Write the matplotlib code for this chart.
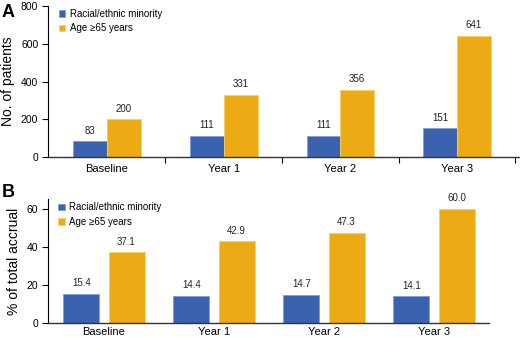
import matplotlib
matplotlib.use("Agg")
import numpy as np
import matplotlib.pyplot as plt

plt.rcParams['font.family'] = ['Liberation Sans', 'DejaVu Sans']

periods = ["Baseline", "Year 1", "Year 2", "Year 3"]
series_names = ["Racial/ethnic minority", "Age \u226565 years"]
minority_n = [83, 111, 111, 151]
age65_n = [200, 331, 356, 641]
minority_pct = [15.4, 14.4, 14.7, 14.1]
age65_pct = [37.1, 42.9, 47.3, 60.0]

blue = "#3a62ae"
orange = "#ecaa15"
blue_edge = "#7f9ed6"
orange_edge = "#f6d067"

W, H = 520, 338
fig = plt.figure(figsize=(W / 100, H / 100), dpi=100)

def frac(l, t, r, b):
    return [l / W, 1 - b / H, (r - l) / W, (b - t) / H]

x = np.arange(len(periods))

# ---- panel A
axA = fig.add_axes(frac(48, 6, 520, 157))
w = 0.29
bA1 = axA.bar(x - w / 2, minority_n, w, color=blue, edgecolor=blue_edge, lw=0.6, label=series_names[0])
bA2 = axA.bar(x + w / 2, age65_n, w, color=orange, edgecolor=orange_edge, lw=0.6, label=series_names[1])
for bars, vals in [(bA1, minority_n), (bA2, age65_n)]:
    for b, v in zip(bars, vals):
        axA.annotate(str(v), (b.get_x() + b.get_width() / 2, v), xytext=(0, 4),
                     textcoords="offset points", ha="center", va="bottom", fontsize=7, color="#222222")
axA.set_xlim(-0.506, 3.54)
axA.set_ylim(0, 800)
axA.set_yticks([0, 200, 400, 600, 800])
axA.set_xticks(x + 0.5, minor=False)
axA.set_xticklabels([])
axA.set_xticks(x, minor=True)
axA.set_xticklabels(periods, minor=True)
axA.tick_params(axis="x", which="major", length=4, width=0.8, direction="out")
axA.tick_params(axis="x", which="minor", length=0, pad=5, labelsize=8)
axA.set_ylabel("No. of patients", fontsize=10, labelpad=4)
axA.legend(loc="upper left", bbox_to_anchor=(0.01, 1.02), frameon=False, fontsize=7,
           handlelength=0.65, handleheight=0.65, handletextpad=0.5, labelspacing=0.45, borderaxespad=0.2)
fig.text(2 / W, 1 - 4 / H, "A", fontsize=13, fontweight="bold", va="top")

# ---- panel B
axB = fig.add_axes(frac(48, 199, 489, 323))
wb = 0.327
off = 0.205
bB1 = axB.bar(x - off, minority_pct, wb, color=blue, edgecolor=blue_edge, lw=0.6, label=series_names[0])
bB2 = axB.bar(x + off, age65_pct, wb, color=orange, edgecolor=orange_edge, lw=0.6, label=series_names[1])
for bars, vals in [(bB1, minority_pct), (bB2, age65_pct)]:
    for b, v in zip(bars, vals):
        axB.annotate(f"{v:.1f}", (b.get_x() + b.get_width() / 2, v), xytext=(0, 4),
                     textcoords="offset points", ha="center", va="bottom", fontsize=7, color="#222222")
axB.set_xlim(-0.509, 3.5)
axB.set_ylim(0, 65)
axB.set_yticks([0, 20, 40, 60])
axB.set_xticks(x)
axB.set_xticklabels(periods)
axB.tick_params(axis="x", length=0, pad=3, labelsize=8)
axB.set_ylabel("% of total accrual", fontsize=10, labelpad=4)
axB.legend(loc="upper left", bbox_to_anchor=(0.01, 1.02), frameon=False, fontsize=7,
           handlelength=0.65, handleheight=0.65, handletextpad=0.5, labelspacing=0.45, borderaxespad=0.2)
fig.text(2 / W, 1 - 184 / H, "B", fontsize=13, fontweight="bold", va="top")

for ax in (axA, axB):
    for s in ("top", "right"):
        ax.spines[s].set_visible(False)
    ax.spines["left"].set_linewidth(0.8)
    ax.spines["bottom"].set_linewidth(1.0)
    ax.spines["bottom"].set_color("#333333")
    ax.tick_params(axis="y", length=4, width=0.8, labelsize=7.5, pad=3)

fig.savefig("out.png", dpi=100)
